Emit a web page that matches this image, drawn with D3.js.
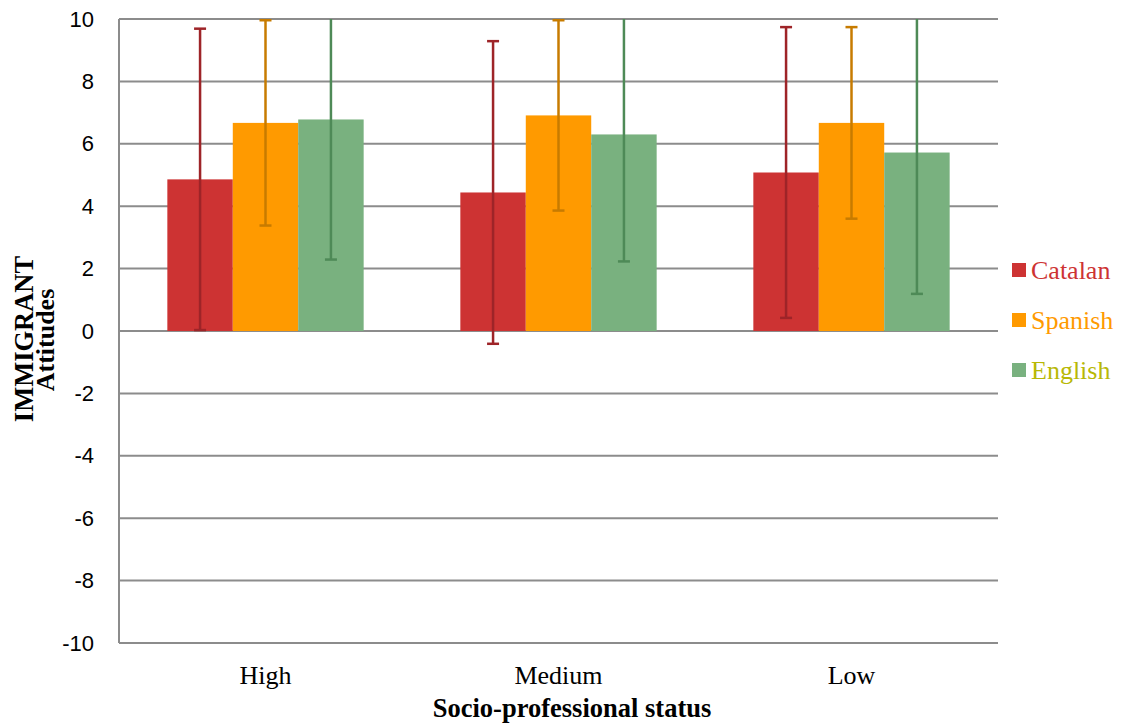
<!DOCTYPE html>
<html>
<head>
<meta charset="utf-8">
<script src="https://cdn.jsdelivr.net/npm/d3@7"></script>
<style>
  html, body { margin: 0; padding: 0; background: #fff; }
  svg { display: block; }
</style>
</head>
<body>
<svg id="chart" width="1123" height="727"></svg>
<script>
// Socio-professional groups and language series
const categories = ["High", "Medium", "Low"];
const seriesNames = ["Catalan", "Spanish", "English"];

// Mean attitude per series, in category order
const catalanMeans = [4.86, 4.44, 5.08];
const spanishMeans = [6.67, 6.91, 6.67];
const englishMeans = [6.78, 6.30, 5.72];

// Error bar half-widths (standard deviation)
const catalanErr = [4.83, 4.85, 4.66];
const spanishErr = [3.29, 3.05, 3.07];
const englishErr = [4.49, 4.07, 4.53];

const yTicks = [10, 8, 6, 4, 2, 0, -2, -4, -6, -8, -10];

const means = [catalanMeans, spanishMeans, englishMeans];
const errs = [catalanErr, spanishErr, englishErr];

const fillColors = ["#CD3333", "#FF9A00", "#79B17F"];
const errColors = ["#9E2428", "#C77B00", "#4E8A57"];
const legendText = ["#CD3333", "#FF9A00", "#B8B806"];

const svg = d3.select("#chart");
const margin = { left: 119, right: 998, top: 19, bottom: 643 };

const x = d3.scaleBand()
  .domain(categories)
  .range([margin.left, margin.right])
  .paddingInner(0.33)
  .paddingOuter(0.165);

const xs = d3.scaleBand()
  .domain(seriesNames)
  .range([0, x.bandwidth()]);

const y = d3.scaleLinear().domain([-10, 10]).range([margin.bottom, margin.top]);

// Horizontal gridlines
svg.append("g")
  .selectAll("line")
  .data(yTicks)
  .join("line")
  .attr("x1", margin.left)
  .attr("x2", margin.right)
  .attr("y1", d => y(d))
  .attr("y2", d => y(d))
  .attr("stroke", "#8C8C8C")
  .attr("stroke-width", 2);

// Vertical axis line
svg.append("line")
  .attr("x1", margin.left).attr("x2", margin.left)
  .attr("y1", y(10)).attr("y2", y(-10))
  .attr("stroke", "#8C8C8C")
  .attr("stroke-width", 2);

// Y axis labels (plain hyphen for negatives)
const yAxis = d3.axisLeft(y)
  .tickValues(yTicks)
  .tickFormat(d => String(d))
  .tickSize(0)
  .tickPadding(25);
const yg = svg.append("g")
  .attr("transform", `translate(${margin.left},0)`)
  .call(yAxis);
yg.select(".domain").remove();
yg.selectAll("text")
  .attr("font-family", "'Liberation Sans', Arial, sans-serif")
  .attr("font-size", 22)
  .attr("fill", "#000");

// Bars
const rows = [];
seriesNames.forEach((s, si) => {
  categories.forEach((c, ci) => {
    rows.push({ s, si, c, v: means[si][ci], e: errs[si][ci] });
  });
});

svg.append("g")
  .selectAll("rect")
  .data(rows)
  .join("rect")
  .attr("x", d => x(d.c) + xs(d.s))
  .attr("width", xs.bandwidth())
  .attr("y", d => y(Math.max(0, d.v)))
  .attr("height", d => Math.abs(y(d.v) - y(0)))
  .attr("fill", d => fillColors[d.si]);

// Error bars, clipped to the axis range
const eg = svg.append("g");
rows.forEach(d => {
  const cx = x(d.c) + xs(d.s) + xs.bandwidth() / 2;
  const hiRaw = d.v + d.e, loRaw = d.v - d.e;
  const hi = Math.min(10, hiRaw), lo = Math.max(-10, loRaw);
  const col = errColors[d.si];
  eg.append("line")
    .attr("x1", cx).attr("x2", cx)
    .attr("y1", y(hi)).attr("y2", y(lo))
    .attr("stroke", col).attr("stroke-width", 2.5);
  const capW = 6;
  if (hiRaw <= 10.05) {
    eg.append("line")
      .attr("x1", cx - capW).attr("x2", cx + capW)
      .attr("y1", y(hi)).attr("y2", y(hi))
      .attr("stroke", col).attr("stroke-width", 2.5);
  }
  if (loRaw >= -10) {
    eg.append("line")
      .attr("x1", cx - capW).attr("x2", cx + capW)
      .attr("y1", y(lo)).attr("y2", y(lo))
      .attr("stroke", col).attr("stroke-width", 2.5);
  }
});

// Category labels
svg.append("g")
  .selectAll("text")
  .data(categories)
  .join("text")
  .attr("x", d => x(d) + x.bandwidth() / 2)
  .attr("y", 684)
  .attr("text-anchor", "middle")
  .attr("font-family", "'Liberation Serif', 'Times New Roman', serif")
  .attr("font-size", 26)
  .attr("fill", "#000")
  .text(d => d);

// Axis titles
svg.append("text")
  .attr("x", 572)
  .attr("y", 717)
  .attr("text-anchor", "middle")
  .attr("font-family", "'Liberation Serif', 'Times New Roman', serif")
  .attr("font-weight", "bold")
  .attr("font-size", 26.5)
  .attr("fill", "#000")
  .text("Socio-professional status");

svg.append("text")
  .attr("transform", "translate(33,339) rotate(-90)")
  .attr("text-anchor", "middle")
  .attr("font-family", "'Liberation Serif', 'Times New Roman', serif")
  .attr("font-weight", "bold")
  .attr("font-size", 26.5)
  .attr("fill", "#000")
  .text("IMMIGRANT");

svg.append("text")
  .attr("transform", "translate(54,340) rotate(-90)")
  .attr("text-anchor", "middle")
  .attr("font-family", "'Liberation Serif', 'Times New Roman', serif")
  .attr("font-weight", "bold")
  .attr("font-size", 26)
  .attr("fill", "#000")
  .text("Attitudes");

// Legend
const lg = svg.append("g")
  .selectAll("g")
  .data(seriesNames)
  .join("g")
  .attr("transform", (d, i) => `translate(1012,${270 + i * 50})`);
lg.append("rect")
  .attr("x", 0).attr("y", -7)
  .attr("width", 14).attr("height", 14)
  .attr("fill", (d, i) => fillColors[i]);
lg.append("text")
  .attr("x", 19).attr("y", 9)
  .attr("font-family", "'Liberation Serif', 'Times New Roman', serif")
  .attr("font-size", 26)
  .attr("fill", (d, i) => legendText[i])
  .text(d => d);
</script>
</body>
</html>
